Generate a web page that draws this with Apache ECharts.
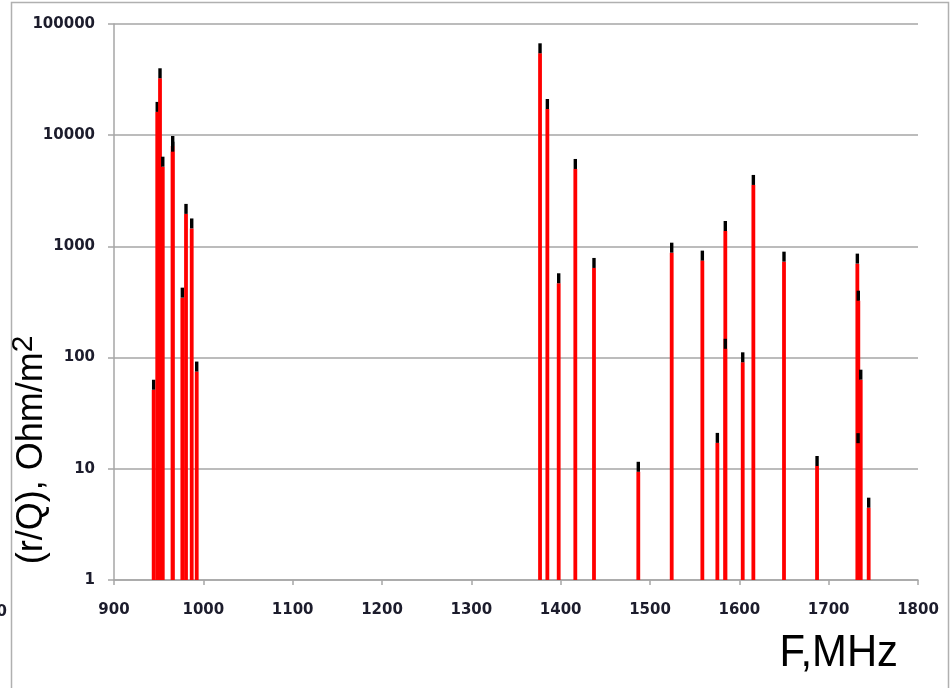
<!DOCTYPE html>
<html>
<head>
<meta charset="utf-8">
<script src="https://cdn.jsdelivr.net/npm/echarts@6/dist/echarts.min.js"></script>
<style>
  html, body { margin: 0; padding: 0; background: #fff; }
  #chart { width: 950px; height: 688px; }
</style>
</head>
<body>
<div id="chart"></div>
<script>
// Mode frequencies (MHz) and their (r/Q) values (Ohm/m^2)
var freqMHz = [944.4, 948.4, 951.5, 954.6, 965.7, 965.7, 976.5, 980.6, 987.0, 992.6,
               1376.9, 1385.1, 1397.8, 1416.4, 1437.3,
               1486.9, 1524.3, 1558.6, 1575.4, 1584.3, 1584.3, 1603.8, 1615.7,
               1650.0, 1687.0, 1732.1, 1733.2, 1735.9, 1732.9, 1744.8];
var rOverQ = [51.4, 16200, 32500, 5210, 8000, 7110, 346, 1960, 1450, 74.9,
              54500, 17200, 466, 4970, 640,
              9.4, 878, 745, 17.1, 1376, 120, 90.7, 3570,
              729, 10.6, 700, 325, 63.3, 17.0, 4.47];

// Axis ranges and tick labels
var xMin = 900, xMax = 1800, xStep = 100;
var yMin = 1, yMax = 100000;
var yTickLabels = ['1', '10', '100', '1000', '10000', '100000'];

var points = freqMHz.map(function (f, i) { return [f, rOverQ[i]]; });

var chart = echarts.init(document.getElementById('chart'), null, { renderer: 'canvas' });

var gridColor = '#a6a6a6';
var labelColor = '#1c1c2c';
var tickFont = { color: labelColor, fontFamily: 'DejaVu Sans', fontSize: 15, fontWeight: 'bold' };

chart.setOption({
  backgroundColor: '#ffffff',
  animation: false,
  grid: { left: 114, right: 32, top: 24, bottom: 108, containLabel: false },
  xAxis: {
    type: 'value',
    min: xMin, max: xMax, interval: xStep,
    axisLine: { show: true, lineStyle: { color: gridColor, width: 1.5 } },
    axisTick: { show: true, length: 5, lineStyle: { color: gridColor, width: 1.5 } },
    splitLine: { show: false },
    axisLabel: Object.assign({ margin: 23, formatter: function (v) { return String(v); } }, tickFont)
  },
  yAxis: {
    type: 'log', logBase: 10, min: yMin, max: yMax,
    axisLine: { show: true, lineStyle: { color: gridColor, width: 1.5 } },
    axisTick: { show: true, inside: false, length: 6, lineStyle: { color: gridColor, width: 1.5 } },
    splitLine: { show: true, lineStyle: { color: gridColor, width: 1.5 } },
    axisLabel: Object.assign({
      margin: 19,
      formatter: function (v) {
        var k = Math.round(Math.log10(v));
        return yTickLabels[k] !== undefined ? yTickLabels[k] : '';
      }
    }, tickFont)
  },
  series: [{
    type: 'custom',
    data: points,
    clip: true,
    renderItem: function (params, api) {
      var f = api.value(0), v = api.value(1);
      var top = api.coord([f, v]);
      var base = api.coord([f, yMin]);
      var w = 3.8;
      return {
        type: 'group',
        children: [
          { type: 'rect',
            shape: { x: top[0] - w / 2, y: top[1], width: w, height: base[1] - top[1] },
            style: { fill: '#ff0000' } },
          // error-bar cap above each column
          { type: 'rect',
            shape: { x: top[0] - w / 2 + 0.2, y: top[1] - 10, width: w - 0.4, height: 10 },
            style: { fill: '#000000' } }
        ]
      };
    }
  }],
  graphic: [
    { type: 'rect', silent: true, z: -1,
      shape: { x: 11.5, y: 2.5, width: 937, height: 700 },
      style: { fill: 'none', stroke: '#b0b0b0', lineWidth: 1.5 } },
    { type: 'text', style: {
        x: 7, y: 612, text: '800', textAlign: 'right', textVerticalAlign: 'middle',
        fill: labelColor, font: 'bold 15px "DejaVu Sans"' } },
    { type: 'text', x: 898, y: 654, scaleX: 0.95, style: {
        x: 0, y: 0, text: 'F,MHz', textAlign: 'right', textVerticalAlign: 'middle',
        fill: '#000', font: '44px "Liberation Sans", sans-serif' } },
    { type: 'text', rotation: Math.PI / 2, x: 32, y: 450, style: {
        x: 0, y: 0, textAlign: 'center', textVerticalAlign: 'middle',
        text: '{b|(r/Q), Ohm/m}{s|2}',
        rich: {
          b: { font: '36px "Liberation Sans", sans-serif', fill: '#000' },
          s: { font: '30px "Liberation Sans", sans-serif', fill: '#000', padding: [0, 0, 16, 0] }
        } } }
  ]
});
</script>
</body>
</html>
